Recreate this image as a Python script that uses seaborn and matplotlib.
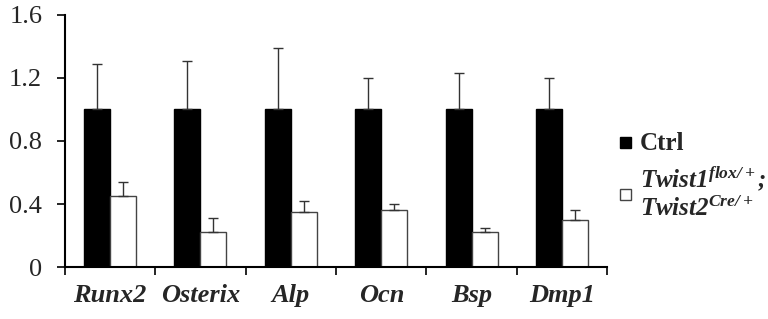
import numpy as np
import pandas as pd
import matplotlib
matplotlib.use("Agg")
import matplotlib.pyplot as plt
import seaborn as sns
from matplotlib.patches import Patch

# values
genes = ["Runx2", "Osterix", "Alp", "Ocn", "Bsp", "Dmp1"]
ctrl_mean = [1.0, 1.0, 1.0, 1.0, 1.0, 1.0]
ctrl_err = [0.29, 0.31, 0.39, 0.20, 0.23, 0.20]
mut_mean = [0.45, 0.22, 0.35, 0.36, 0.22, 0.30]
mut_err = [0.09, 0.09, 0.07, 0.04, 0.03, 0.06]
groups = ["Ctrl", "Twist"]

sns.set_theme(style="white")
plt.rcParams["font.family"] = ["Liberation Serif", "DejaVu Serif"]
plt.rcParams["mathtext.fontset"] = "custom"
plt.rcParams["mathtext.rm"] = "Liberation Serif:bold:italic"
plt.rcParams["mathtext.it"] = "Liberation Serif:bold:italic"
plt.rcParams["mathtext.bf"] = "Liberation Serif:bold:italic"

df = pd.DataFrame({
    "gene": genes * 2,
    "group": [groups[0]] * len(genes) + [groups[1]] * len(genes),
    "value": ctrl_mean + mut_mean,
})

fig = plt.figure(figsize=(7.68, 3.19), dpi=100)
ax = fig.add_axes([0.084, 0.163, 0.707, 0.79])

sns.barplot(data=df, x="gene", y="value", hue="group", order=genes,
            hue_order=groups, palette=["black", "white"], width=0.575,
            errorbar=None, ax=ax, legend=False)

errs = ctrl_err + mut_err
for p, e in zip(ax.patches, errs):
    xc = p.get_x() + p.get_width() / 2
    top = p.get_height()
    ax.errorbar([xc], [top], yerr=[[0], [e]], fmt="none", ecolor="#333333",
                elinewidth=1.0, capsize=3.5, capthick=1.0, zorder=1)

for p in ax.patches[len(genes):]:
    p.set_edgecolor("#444444")
    p.set_linewidth(1.0)
for p in ax.patches[:len(genes)]:
    p.set_edgecolor("black")

ax.set_ylim(0, 1.6)
ax.set_xlim(-0.5, len(genes) - 0.5)
ax.set_yticks([0, 0.4, 0.8, 1.2, 1.6])
ax.set_yticklabels(["0", "0.4", "0.8", "1.2", "1.6"], fontsize=19,
                   fontfamily="Liberation Serif")
ax.set_xticks(np.arange(len(genes)))
ax.set_xticklabels(genes, fontsize=19, fontweight="bold", fontstyle="italic",
                   fontfamily="Liberation Serif")
ax.set_xticks(np.arange(len(genes) + 1) - 0.5, minor=True)
ax.tick_params(axis="x", which="major", length=0, pad=12)
ax.tick_params(axis="x", which="minor", length=6, width=1.2, direction="out",
               bottom=True, color="black")
ax.tick_params(axis="y", length=6, width=1.2, direction="out", left=True,
               color="black", pad=10)
ax.set_xlabel("")
ax.set_ylabel("")
sns.despine(ax=ax)
for s in ["left", "bottom"]:
    ax.spines[s].set_color("black")
    ax.spines[s].set_linewidth(1.5)

handles = [Patch(facecolor="black", edgecolor="black"),
           Patch(facecolor="white", edgecolor="#444444")]
labels = ["Ctrl", "$Twist1^{flox/+}$;\n$Twist2^{Cre/+}$"]
leg = ax.legend(handles, labels, loc="center left", bbox_to_anchor=(0.982, 0.36),
                frameon=False, handlelength=0.5, handleheight=0.5,
                handletextpad=0.3, labelspacing=0.4,
                prop={"family": "Liberation Serif", "size": 18, "weight": "bold"})
leg.get_texts()[1].set_fontstyle("italic")
for h in leg.legend_handles:
    h.set_width(8)
    h.set_height(8)

fig.savefig("out.png", dpi=100)
